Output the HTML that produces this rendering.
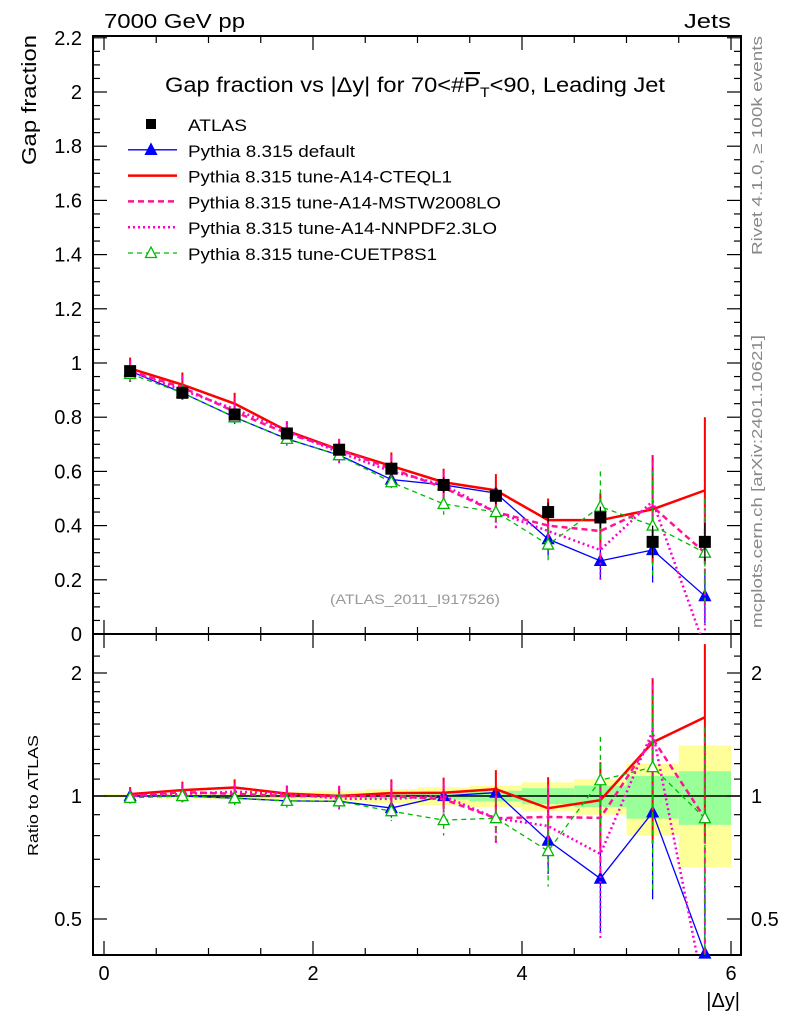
<!DOCTYPE html>
<html><head><meta charset="utf-8">
<style>
html,body{margin:0;padding:0;background:#fff;}
svg{display:block;font-family:"Liberation Sans",sans-serif;}
</style></head>
<body>
<svg id="chart" width="786" height="1024" viewBox="0 0 786 1024" xmlns="http://www.w3.org/2000/svg">
<text x="104" y="28" font-size="20" textLength="141" lengthAdjust="spacingAndGlyphs">7000 GeV pp</text>
<text x="684" y="28" font-size="20" textLength="47" lengthAdjust="spacingAndGlyphs">Jets</text>
<text x="165" y="92" font-size="21" textLength="500" lengthAdjust="spacingAndGlyphs">Gap fraction vs |Δy| for 70&lt;#<tspan text-decoration="overline">P</tspan><tspan font-size="14" dy="5">T</tspan><tspan dy="-5">&lt;90, Leading Jet</tspan></text>
<text transform="translate(36,165) rotate(-90)" font-size="20" textLength="130" lengthAdjust="spacingAndGlyphs">Gap fraction</text>
<text transform="translate(38,856) rotate(-90)" font-size="15" textLength="121" lengthAdjust="spacingAndGlyphs">Ratio to ATLAS</text>
<text x="740" y="1007" font-size="20" text-anchor="end">|Δy|</text>
<text transform="translate(762,255) rotate(-90)" font-size="15" fill="#888" textLength="219" lengthAdjust="spacingAndGlyphs">Rivet 4.1.0, ≥ 100k events</text>
<text transform="translate(762,628) rotate(-90)" font-size="15" fill="#888" textLength="293" lengthAdjust="spacingAndGlyphs">mcplots.cern.ch [arXiv:2401.10621]</text>
<text x="330" y="604" font-size="14" fill="#999" textLength="170" lengthAdjust="spacingAndGlyphs">(ATLAS_2011_I917526)</text>
<g id="bands"></g>
<g id="axes"></g>
<g id="series"></g>
<g id="legend"></g>
</svg>
<script>
const xCenters=[0.25,0.75,1.25,1.75,2.25,2.75,3.25,3.75,4.25,4.75,5.25,5.75];
const xTicks=[0,2,4,6];
const yTicks=[0,0.2,0.4,0.6,0.8,1,1.2,1.4,1.6,1.8,2,2.2];
const rTicks=[0.5,1,2];
const atlas=[0.97,0.89,0.81,0.74,0.68,0.61,0.55,0.51,0.45,0.43,0.34,0.34];
const atlasErr=[0.01,0.013,0.016,0.018,0.02,0.024,0.028,0.03,0.035,0.04,0.06,0.07];
const bandTot=[0.01,0.015,0.02,0.025,0.03,0.04,0.05,0.06,0.08,0.10,0.20,0.33];
const bandStat=[0.004,0.006,0.008,0.01,0.012,0.016,0.02,0.03,0.045,0.06,0.12,0.15];
const sDefault=[0.97,0.89,0.80,0.72,0.66,0.57,0.55,0.52,0.35,0.27,0.31,0.14];
const eDefault=[0.02,0.025,0.025,0.025,0.03,0.03,0.04,0.05,0.06,0.07,0.12,0.1];
const sCteq=[0.98,0.92,0.85,0.75,0.68,0.62,0.56,0.53,0.42,0.42,0.46,0.53];
const eCteq=[0.04,0.045,0.04,0.035,0.04,0.05,0.05,0.06,0.08,0.1,0.2,0.27];
const sMstw=[0.97,0.91,0.82,0.74,0.68,0.61,0.54,0.45,0.40,0.38,0.47,0.30];
const eMstw=[0.04,0.045,0.04,0.035,0.04,0.05,0.05,0.06,0.08,0.1,0.17,0.2];
const sNnpdf=[0.97,0.90,0.83,0.75,0.67,0.60,0.55,0.45,0.38,0.31,0.49,-0.05];
const eNnpdf=[0.04,0.045,0.04,0.035,0.04,0.05,0.05,0.06,0.08,0.12,0.17,0.2];
const sCuetp=[0.96,0.89,0.80,0.72,0.66,0.56,0.48,0.45,0.33,0.47,0.40,0.30];
const eCuetp=[0.025,0.03,0.03,0.03,0.03,0.03,0.04,0.05,0.06,0.13,0.2,0.2];

const NS="http://www.w3.org/2000/svg";
const L=93,R=741,T=36,B1=634,B2=955;
const X=v=>104+v*104.5;
const Y=v=>634-v*271;
const RY=v=>796-Math.log2(v)*123;
function mk(tag,attrs,parent){const e=document.createElementNS(NS,tag);for(const k in attrs)e.setAttribute(k,attrs[k]);document.getElementById(parent).appendChild(e);return e;}
function clampY(v,lo,hi){return Math.max(lo,Math.min(hi,v));}

xCenters.forEach((c,i)=>{
  let r=mk('rect',{x:X(c-0.25),y:RY(1+bandTot[i]),width:X(0.5)-X(0),height:RY(1-bandTot[i])-RY(1+bandTot[i]),fill:'#ffff99'},'bands');
  
  
  let g=mk('rect',{x:X(c-0.25),y:RY(1+bandStat[i]),width:X(0.5)-X(0),height:RY(1-bandStat[i])-RY(1+bandStat[i]),fill:'#99ff99'},'bands');
  
  
});

let f1=mk('rect',{x:L,y:T,width:R-L,height:B1-T,fill:'none',stroke:'#000','stroke-width':2},'axes');


let f2=mk('rect',{x:L,y:B1,width:R-L,height:B2-B1,fill:'none',stroke:'#000','stroke-width':2},'axes');


let one=mk('line',{x1:L,x2:R,y1:RY(1),y2:RY(1),stroke:'#000','stroke-width':1.5},'axes');


for(let v=0;v<=6.01;v+=0.5){
  const big=Math.abs(v-Math.round(v/2)*2)<0.01, len=big?14:7;
  [[T,1],[B1,-1],[B1,1],[B2,-1]].forEach(([y,d])=>mk('line',{x1:X(v),x2:X(v),y1:y,y2:y+d*len,stroke:'#000','stroke-width':1.2},'axes'));
}
xTicks.forEach(v=>{let t=mk('text',{x:X(v),y:980,'font-size':20,'text-anchor':'middle'},'axes');t.textContent=v;
  
  });
for(let v=0;v<=2.2001;v+=0.05){
  const big=Math.abs(v*5-Math.round(v*5))<0.01,len=big?14:7;
  mk('line',{x1:L,x2:L+len,y1:Y(v),y2:Y(v),stroke:'#000','stroke-width':1.2},'axes');
  mk('line',{x1:R,x2:R-len,y1:Y(v),y2:Y(v),stroke:'#000','stroke-width':1.2},'axes');
}
yTicks.forEach(v=>{let t=mk('text',{x:82,y:Y(v)+7,'font-size':20,'text-anchor':'end'},'axes');t.textContent=String(Math.round(v*10)/10);
  
  });
[0.4,0.5,0.6,0.7,0.8,0.9,1,1.1,1.2,1.3,1.4,1.5,1.6,1.7,1.8,1.9,2,2.2].forEach(v=>{
  const big=rTicks.includes(v),len=big?14:7,y=RY(v);
  if(y<B1||y>B2)return;
  mk('line',{x1:L,x2:L+len,y1:y,y2:y,stroke:'#000','stroke-width':1.2},'axes');
  mk('line',{x1:R,x2:R-len,y1:y,y2:y,stroke:'#000','stroke-width':1.2},'axes');
});
rTicks.forEach(v=>{
  let t=mk('text',{x:82,y:RY(v)+7,'font-size':20,'text-anchor':'end'},'axes');t.textContent=String(v);
  
  
  let t2=mk('text',{x:751,y:RY(v)+7,'font-size':20},'axes');t2.textContent=String(v);
  
  
});

const series=[
 {name:'default',vals:sDefault,err:eDefault,color:'#0000ff',w:1.3,dash:'',marker:'tri-fill'},
 {name:'cteql1',vals:sCteq,err:eCteq,color:'#ff0000',w:2.5,dash:'',marker:''},
 {name:'mstw2008lo',vals:sMstw,err:eMstw,color:'#ff1493',w:2.5,dash:'6,4',marker:''},
 {name:'nnpdf23lo',vals:sNnpdf,err:eNnpdf,color:'#ff00cc',w:2.5,dash:'2,3',marker:''},
 {name:'cuetp8s1',vals:sCuetp,err:eCuetp,color:'#00bb00',w:1.3,dash:'5,4',marker:'tri-open'}
];
function tri(x,y,col,fill){return mk('polygon',{points:`${x},${y-6} ${x-5.5},${y+4.5} ${x+5.5},${y+4.5}`,fill:fill?col:'#fff',stroke:col,'stroke-width':1.3},'series');}
function drawPanel(ratio){
  const lo=ratio?B1:T, hi=ratio?B2:B1;
  const yf=ratio?(v=>RY(Math.max(v,0.01))):Y;
  series.forEach(s=>{
    const vals=s.vals.map((v,i)=>ratio?v/atlas[i]:v);
    const errs=s.err.map((e,i)=>ratio?e/atlas[i]:e);
    vals.forEach((v,i)=>{
      const x=X(xCenters[i]);
      const y1=clampY(yf(v+errs[i]),lo,hi),y2=clampY(yf(Math.max(v-errs[i],0.01)),lo,hi);
      let eb=mk('line',{x1:x,x2:x,y1:y1,y2:y2,stroke:s.color,'stroke-width':s.w>2?2:1.3,'stroke-dasharray':s.dash},'series');
      
      
    });
    const pts=vals.map((v,i)=>X(xCenters[i])+','+clampY(yf(v),lo,hi+40)).join(' ');
    const cid=ratio?'clipR':'clipM';
    let pl=mk('polyline',{points:pts,fill:'none',stroke:s.color,'stroke-width':s.w,'stroke-dasharray':s.dash,'clip-path':`url(#${cid})`},'series');
    
    
    if(s.marker)vals.forEach((v,i)=>{const y=yf(v);if(y<lo||y>hi)return;
      let m=tri(X(xCenters[i]),y,s.color,s.marker==='tri-fill');
      
      });
  });
}
const defs=mk('defs',{},'series');
[['clipM',T],['clipR',B1]].forEach(([id,t],k)=>{const c=document.createElementNS(NS,'clipPath');c.setAttribute('id',id);
  const r=document.createElementNS(NS,'rect');r.setAttribute('x',L);r.setAttribute('y',t);r.setAttribute('width',R-L);r.setAttribute('height',k?B2-B1:B1-T);c.appendChild(r);defs.appendChild(c);});
drawPanel(false);
atlas.forEach((v,i)=>{
  const x=X(xCenters[i]);
  mk('line',{x1:x,x2:x,y1:Y(v+atlasErr[i]),y2:Y(v-atlasErr[i]),stroke:'#000','stroke-width':1.3},'series');
  let p=mk('rect',{x:x-6,y:Y(v)-6,width:12,height:12,fill:'#000'},'series');
  
  
});
drawPanel(true);

const leg=[['ATLAS','#000','',1,'sq',59],['Pythia 8.315 default','#0000ff','',1.3,'tri-fill',167],['Pythia 8.315 tune-A14-CTEQL1','#ff0000','',2.5,'',264],
 ['Pythia 8.315 tune-A14-MSTW2008LO','#ff1493','6,4',2.5,'',313],['Pythia 8.315 tune-A14-NNPDF2.3LO','#ff00cc','2,3',2.5,'',309],['Pythia 8.315 tune-CUETP8S1','#00bb00','5,4',1.3,'tri-open',249]];
leg.forEach((e,i)=>{
  const y=124+i*25.8;
  if(e[4]==='sq'){mk('rect',{x:146,y:y-5,width:10,height:10,fill:'#000'},'legend');}
  else{mk('line',{x1:128,x2:177,y1:y,y2:y,stroke:e[1],'stroke-width':e[3],'stroke-dasharray':e[2]},'legend');
    if(e[4]){mk('polygon',{points:`151,${y-6} 145.5,${y+4.5} 156.5,${y+4.5}`,fill:e[4]==='tri-fill'?e[1]:'#fff',stroke:e[1],'stroke-width':1.3},'legend');}}
  let t=mk('text',{x:188,y:y+7,'font-size':17,textLength:e[5],lengthAdjust:'spacingAndGlyphs'},'legend');t.textContent=e[0];
  
  
});
</script>
</body></html>
